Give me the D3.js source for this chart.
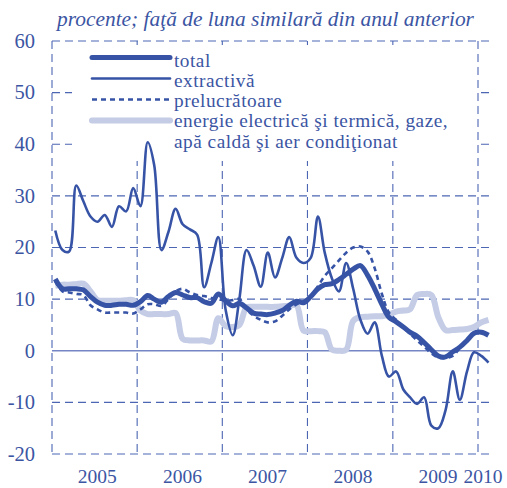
<!DOCTYPE html>
<html>
<head>
<meta charset="utf-8">
<script src="https://cdn.jsdelivr.net/npm/d3@7"></script>
<style>
  body { margin: 0; background: #fff; }
</style>
</head>
<body>
<svg id="chart"></svg>
<script>
// months Jan 2005 .. Feb 2010
const months = d3.timeMonth.range(new Date(2005, 0, 1), new Date(2010, 2, 1));

const total = [13.9, 12.0, 12.0, 12.0, 11.8, 10.5, 9.4, 8.8, 8.8, 9.0, 9.0, 8.8,
    9.5, 10.7, 10.0, 9.4, 10.5, 11.3, 10.8, 10.3, 10.3, 9.5, 9.2, 11.0,
    9.7, 8.7, 9.2, 8.3, 7.3, 7.1, 7.0, 7.3, 7.8, 8.8, 9.6, 9.3,
    10.5, 12.0, 12.8, 13.0, 13.8, 14.8, 15.8, 16.5, 14.6, 12.0, 9.0, 6.5,
    5.6, 4.6, 3.6, 2.8, 1.6, 0.2, -1.0, -1.2, -0.2, 0.7, 2.0, 3.4,
    3.6, 3.0];

const extractiva = [23.3, 19.5, 19.2, 32.0, 29.0, 26.0, 25.0, 26.3, 24.0, 28.0, 27.0, 31.5,
    28.0, 40.4, 36.0, 19.5, 23.0, 27.5, 24.5, 23.5, 22.5, 12.3, 17.0, 22.0,
    8.0, 3.0, 10.0, 19.5, 16.5, 12.4, 19.0, 14.2, 18.0, 22.0, 18.0, 17.0,
    18.0, 26.0, 19.0, 14.0, 11.5, 17.0, 12.0, 6.0, 3.3, 5.5, -1.0, -5.0,
    -4.0, -7.5, -9.0, -10.3, -9.0, -14.5, -15.0, -11.5, -4.0, -9.5, -4.0, -0.3,
    -1.0, -2.3];

const prelucratoare = [13.5, 11.5, 11.3, 11.0, 10.8, 8.8, 8.0, 7.4, 7.4, 7.4, 7.4, 7.2,
    8.0, 9.0, 9.0, 8.7, 10.0, 11.5, 12.0, 11.3, 10.8, 10.6, 10.2, 10.0,
    9.7, 9.8, 10.0, 8.0, 6.8, 6.0, 5.5, 5.7, 6.8, 8.0, 9.0, 9.6,
    10.5, 12.5, 14.5, 16.0, 17.5, 19.0, 20.0, 20.2, 19.2, 16.0, 11.0, 7.4,
    6.0, 4.5, 3.3, 2.0, 0.8, -0.5, -1.3, -1.4, -1.0, 0.5, 2.0, 3.4,
    3.6, 3.0];

const energie = [12.6, 12.8, 12.8, 12.9, 13.0, 11.5, 9.8, 9.7, 9.7, 9.7, 9.8, 9.8,
    7.8, 7.1, 7.1, 7.1, 7.1, 7.3, 2.3, 2.0, 2.0, 2.0, 1.8, 6.3,
    4.8, 4.6, 5.0, 8.4, 8.5, 8.5, 8.5, 8.5, 8.6, 8.7, 8.8, 3.9,
    3.8, 3.8, 3.6, 0.2, 0.0, 0.2, 5.8, 6.5, 6.6, 6.7, 6.7, 7.0,
    7.6, 7.8, 8.0, 10.8, 11.0, 10.8, 6.5, 4.0, 4.0, 4.1, 4.2, 4.6,
    5.5, 6.0];

const yTicks = [60, 50, 40, 30, 20, 10, 0, -10, -20];
const years = [2005, 2006, 2007, 2008, 2009, 2010];
const legendLabels = ["total", "extractivă", "prelucrătoare", "energie electrică şi termică, gaze,", "apă caldă şi aer condiţionat"];

const W = 507, H = 488;
const blue = "#3653a6";
const light = "#c4cce6";
const gridColor = "#4c66b3";
const textColor = "#3b55a3";
const serif = "'Liberation Serif', 'Times New Roman', Times, serif";

const svg = d3.select("#chart").attr("width", W).attr("height", H)
    .attr("font-family", serif);

const x = d3.scaleTime()
    .domain([new Date(2005, 0, 1), new Date(2010, 0, 1)])
    .range([52, 478]);
const right = 490;
const y = d3.scaleLinear().domain([-20, 60]).range([454, 41]);

const mid = d => new Date(d.getFullYear(), d.getMonth(), 15);

// horizontal gridlines
svg.append("g").selectAll("line")
    .data(yTicks.filter(v => v !== 0))
    .join("line")
    .attr("x1", 52).attr("x2", right)
    .attr("y1", d => y(d)).attr("y2", d => y(d))
    .attr("stroke", gridColor).attr("stroke-width", 1.1)
    .attr("stroke-dasharray", "8,5");

// vertical year gridlines
const bounds = years.map(yr => new Date(yr, 0, 1));
svg.append("g").selectAll("line")
    .data(bounds)
    .join("line")
    .attr("x1", d => x(d)).attr("x2", d => x(d))
    .attr("y1", y(60)).attr("y2", y(-20))
    .attr("stroke", gridColor).attr("stroke-width", 1.1)
    .attr("stroke-dasharray", "8,5");

// legend background
svg.append("rect")
    .attr("x", 72).attr("y", 45)
    .attr("width", 404).attr("height", 116)
    .attr("fill", "#fff");

// zero line
svg.append("line")
    .attr("x1", 52).attr("x2", right)
    .attr("y1", y(0)).attr("y2", y(0))
    .attr("stroke", "#7486c4").attr("stroke-width", 1.6);

// y tick labels
svg.append("g").selectAll("text")
    .data(yTicks)
    .join("text")
    .attr("x", 35).attr("y", d => y(d) + 6.8)
    .attr("text-anchor", "end")
    .attr("font-size", 20.5)
    .attr("fill", textColor)
    .text(d => d);

// year labels
svg.append("g").selectAll("text")
    .data(years)
    .join("text")
    .attr("x", d => d === 2010 ? 483 : x(new Date(d, 6, 1)) + 3)
    .attr("y", 483)
    .attr("text-anchor", "middle")
    .attr("font-size", 19.5)
    .attr("fill", textColor)
    .text(d => d);

// title
svg.append("text")
    .attr("x", 265.5).attr("y", 26)
    .attr("text-anchor", "middle")
    .attr("font-size", 21.4)
    .attr("font-style", "italic")
    .attr("fill", textColor)
    .text("procente; faţă de luna similară din anul anterior");

const line = d3.line()
    .x((d, i) => x(mid(months[i])))
    .y(d => y(d))
    .curve(d3.curveCatmullRom.alpha(0.5));

const series = [
    { data: energie, color: light, width: 6, dash: null },
    { data: prelucratoare, color: blue, width: 2.6, dash: "5,4" },
    { data: total, color: blue, width: 5, dash: null },
    { data: extractiva, color: blue, width: 2.6, dash: null }
];

series.forEach(s => {
    svg.append("path")
        .datum(s.data)
        .attr("d", line)
        .attr("fill", "none")
        .attr("stroke", s.color)
        .attr("stroke-width", s.width)
        .attr("stroke-linejoin", "round")
        .attr("stroke-dasharray", s.dash);
});

// legend
const legendSeries = [series[2], series[3], series[1], series[0]];
const lg = svg.append("g");
legendSeries.forEach((s, i) => {
    const ly = 57.5 + i * 21;
    lg.append("line")
        .attr("x1", 92).attr("x2", 170)
        .attr("y1", ly).attr("y2", ly)
        .attr("stroke", s.color)
        .attr("stroke-width", s.width)
        .attr("stroke-linecap", s.dash ? "butt" : "round")
        .attr("stroke-dasharray", s.dash);
});
lg.selectAll("text")
    .data(legendLabels)
    .join("text")
    .attr("x", 174)
    .attr("y", (d, i) => 66.5 + i * 20.3)
    .attr("font-size", 19.3)
    .attr("letter-spacing", 0.5)
    .attr("fill", textColor)
    .text(d => d);
</script>
</body>
</html>
